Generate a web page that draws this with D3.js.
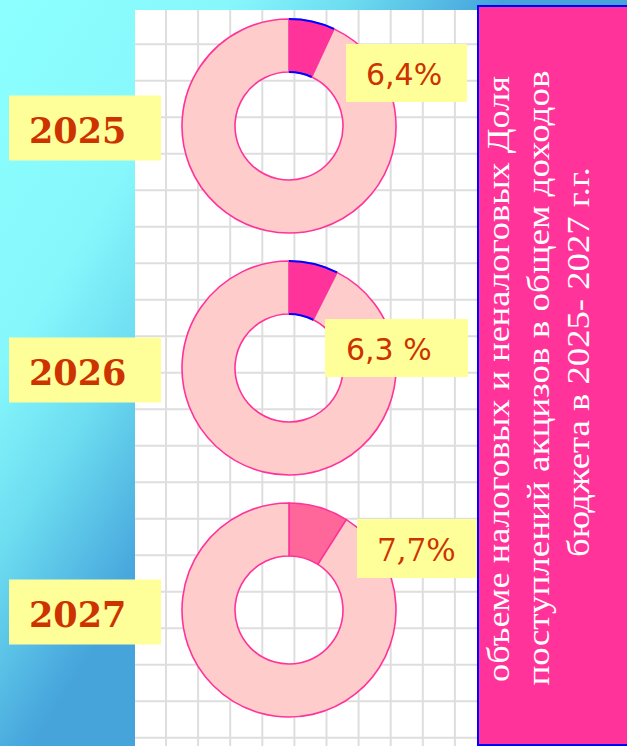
<!DOCTYPE html>
<html>
<head>
<meta charset="utf-8">
<script src="https://cdn.jsdelivr.net/npm/d3@7"></script>
<style>
  html, body { margin: 0; padding: 0; background: #ffffff; }
  svg { display: block; }
</style>
</head>
<body>
<div id="chart"></div>
<script>
// values
const years = ["2025", "2026", "2027"];
const shareLabels = ["6,4%", "6,3 %", "7,7%"];
const sliceShare = [6.9, 7.4, 9.0];   // slice size as drawn, in %
const titleLines = [
    "объеме налоговых и неналоговых Доля",
    "поступлений акцизов в общем доходов",
    "бюджета  в 2025- 2027 г.г."
];

const width = 627, height = 746;

const svg = d3.select("#chart").append("svg")
    .attr("width", width)
    .attr("height", height);

// background gradient, cyan top-left to blue towards the right and the bottom
const defs = svg.append("defs");
const grad = defs.append("linearGradient")
    .attr("id", "bg")
    .attr("gradientUnits", "userSpaceOnUse")
    .attr("x1", 0).attr("y1", 0)
    .attr("x2", 360).attr("y2", 227);
grad.append("stop").attr("offset", "0%").attr("stop-color", "#8cffff");
grad.append("stop").attr("offset", "46%").attr("stop-color", "#86f8fc");
grad.append("stop").attr("offset", "70%").attr("stop-color", "#6cdcf0");
grad.append("stop").attr("offset", "96%").attr("stop-color", "#4aaade");
grad.append("stop").attr("offset", "100%").attr("stop-color", "#46a4da");

svg.append("rect")
    .attr("width", width).attr("height", height)
    .attr("fill", "url(#bg)");

// white squared paper panel
const panel = { x0: 135, x1: 477, y0: 10, y1: 746 };
svg.append("rect")
    .attr("x", panel.x0).attr("y", panel.y0)
    .attr("width", panel.x1 - panel.x0).attr("height", panel.y1 - panel.y0)
    .attr("fill", "#ffffff");

const grid = svg.append("g")
    .attr("stroke", "#dedede")
    .attr("stroke-width", 2);
grid.selectAll(".vl")
    .data(d3.range(166, panel.x1, 32.1))
    .join("line")
    .attr("x1", d => d).attr("x2", d => d)
    .attr("y1", panel.y0).attr("y2", panel.y1);
grid.selectAll(".hl")
    .data(d3.range(44.3, panel.y1, 36.5))
    .join("line")
    .attr("x1", panel.x0).attr("x2", panel.x1)
    .attr("y1", d => d).attr("y2", d => d);

// donut layout
const yScale = d3.scalePoint().domain(years).range([126, 610]);
const cx = 289;
const outerR = 107, innerR = 54;

const pie = d3.pie().sort(null).value(d => d);
const arc = d3.arc().innerRadius(innerR).outerRadius(outerR);
const outerEdge = d3.arc().innerRadius(outerR).outerRadius(outerR);
const innerEdge = d3.arc().innerRadius(innerR).outerRadius(innerR);

const sliceFill = ["#ff3399", "#ff3399", "#ff6699"];

years.forEach((year, i) => {
    const g = svg.append("g")
        .attr("transform", `translate(${cx},${yScale(year)})`);
    const arcs = pie([sliceShare[i], 100 - sliceShare[i]]);

    g.selectAll("path.slice")
        .data(arcs)
        .join("path")
        .attr("class", "slice")
        .attr("d", arc)
        .attr("fill", (d, j) => j === 0 ? sliceFill[i] : "#ffcccc")
        .attr("stroke", (d, j) => j === 0 && i < 2 ? "#cc44dd" : "#ff3399")
        .attr("stroke-width", 1.6);

    // the slice outline in blue on the first two rings
    if (i < 2) {
        g.append("path").attr("d", outerEdge(arcs[0]))
            .attr("fill", "none").attr("stroke", "#0000ff").attr("stroke-width", 2);
        g.append("path").attr("d", innerEdge(arcs[0]))
            .attr("fill", "none").attr("stroke", "#0000ff").attr("stroke-width", 2);
    }
});

// year labels
const yearBox = { x: 9, w: 152, h: 65 };
const yearG = svg.append("g");
yearG.selectAll("rect")
    .data(years)
    .join("rect")
    .attr("x", yearBox.x)
    .attr("y", d => yScale(d) - 30.5)
    .attr("width", yearBox.w).attr("height", yearBox.h)
    .attr("fill", "#ffff99");
yearG.selectAll("text")
    .data(years)
    .join("text")
    .attr("x", 29)
    .attr("y", d => yScale(d) + 16.5)
    .attr("font-family", "'DejaVu Serif', serif")
    .attr("font-weight", "bold")
    .attr("font-size", 35)
    .attr("fill", "#cc3300")
    .text(d => d);

// percent labels
const pctBoxes = [
    { x: 346, y: 44, w: 121, h: 58, tx: 366, ty: 85, font: "'DejaVu Sans', sans-serif", size: 30 },
    { x: 325, y: 319, w: 143, h: 58, tx: 346, ty: 360, font: "'DejaVu Sans', sans-serif", size: 30 },
    { x: 357, y: 519, w: 121, h: 59, tx: 377, ty: 561, font: "'DejaVu Serif', serif", size: 31 }
];
const pctG = svg.append("g");
pctG.selectAll("rect")
    .data(shareLabels)
    .join("rect")
    .attr("x", (d, i) => pctBoxes[i].x)
    .attr("y", (d, i) => pctBoxes[i].y)
    .attr("width", (d, i) => pctBoxes[i].w)
    .attr("height", (d, i) => pctBoxes[i].h)
    .attr("fill", "#ffff99");
pctG.selectAll("text")
    .data(shareLabels)
    .join("text")
    .attr("x", (d, i) => pctBoxes[i].tx)
    .attr("y", (d, i) => pctBoxes[i].ty)
    .attr("font-family", (d, i) => pctBoxes[i].font)
    .attr("font-size", (d, i) => pctBoxes[i].size)
    .attr("fill", "#cc3300")
    .text(d => d);

// title panel on the right
svg.append("rect")
    .attr("x", 478).attr("y", 6)
    .attr("width", 160).attr("height", 739)
    .attr("fill", "#ff3399")
    .attr("stroke", "#0000ff")
    .attr("stroke-width", 2);

const titlePos = [
    { x: 509, y: 379, len: 606 },
    { x: 549, y: 378, len: 615 },
    { x: 589, y: 362, len: 390 }
];
svg.append("g").selectAll("text")
    .data(titleLines)
    .join("text")
    .attr("transform", (d, i) => `translate(${titlePos[i].x},${titlePos[i].y}) rotate(-90)`)
    .attr("text-anchor", "middle")
    .attr("font-family", "'Liberation Serif', serif")
    .attr("font-size", 31)
    .attr("fill", "#ffffff")
    .attr("textLength", (d, i) => titlePos[i].len)
    .attr("lengthAdjust", "spacingAndGlyphs")
    .text(d => d);
</script>
</body>
</html>
